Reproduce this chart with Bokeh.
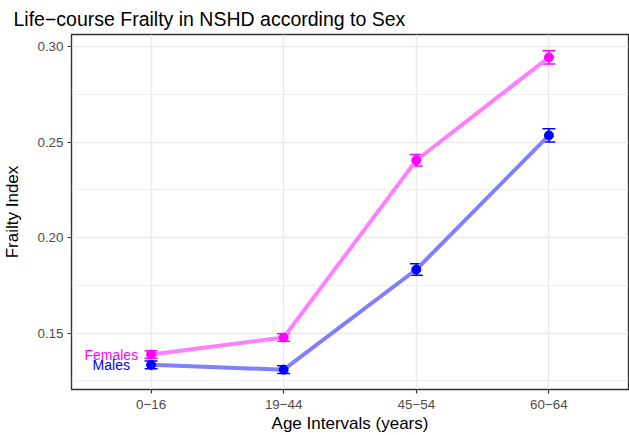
from bokeh.plotting import figure
from bokeh.models import (Range1d, FixedTicker, Whisker, ColumnDataSource, TeeHead,
                          PrintfTickFormatter)
from bokeh.embed import file_html
from bokeh.resources import INLINE
from bokeh.core.properties import value

# ---- data ----
categories = ["0−16", "19−44", "45−54", "60−64"]
females = [0.1388, 0.1477, 0.2405, 0.2943]
females_err = [0.0020, 0.0020, 0.0030, 0.0035]
males = [0.1334, 0.1309, 0.1833, 0.2535]
males_err = [0.0020, 0.0020, 0.0030, 0.0035]
series_names = ["Females", "Males"]
y_ticks = [0.15, 0.20, 0.25, 0.30]
y_minor = [0.125, 0.175, 0.225, 0.275]

FONT = "Liberation Sans"
F_LINE, F_PT = "#FF80FF", "#FF00FF"
M_LINE, M_PT = "#8080FF", "#0000FF"

xpos = list(range(1, len(categories) + 1))

p = figure(width=629, height=435, output_backend="svg", toolbar_location=None,
           x_range=Range1d(0.4, len(categories) + 0.6),
           y_range=Range1d(0.1205, 0.3063),
           min_border_left=68, min_border_right=1, min_border_top=34,
           min_border_bottom=44)

p.title.text = "Life−course Frailty in NSHD according to Sex"
p.title.text_font = FONT
p.title.text_font_size = "19.5px"
p.title.text_font_style = "normal"
p.title.text_color = "#000000"
p.title.align = "left"
p.title.standoff = 9
p.title.offset = -58

p.background_fill_color = "white"
p.border_fill_color = "white"
p.outline_line_color = "#333333"
p.outline_line_width = 1.4

# grid
p.xgrid.ticker = FixedTicker(ticks=xpos)
p.xgrid.grid_line_color = "#EBEBEB"
p.xgrid.grid_line_width = 1.5
p.ygrid.ticker = FixedTicker(ticks=y_ticks, minor_ticks=y_minor)
p.ygrid.grid_line_color = "#EBEBEB"
p.ygrid.grid_line_width = 1.5
p.ygrid.minor_grid_line_color = "#EBEBEB"
p.ygrid.minor_grid_line_width = 0.8

# axes
p.xaxis.ticker = FixedTicker(ticks=xpos)
p.xaxis.major_label_overrides = {x: c for x, c in zip(xpos, categories)}
p.yaxis.ticker = FixedTicker(ticks=y_ticks, minor_ticks=y_minor)
p.yaxis.formatter = PrintfTickFormatter(format="%.2f")
for ax in (p.xaxis, p.yaxis):
    ax.axis_line_color = None
    ax.major_tick_line_color = "#333333"
    ax.major_tick_line_width = 1.2
    ax.major_tick_out = 4
    ax.major_tick_in = 0
    ax.minor_tick_line_color = None
    ax.major_label_text_font = FONT
    ax.major_label_text_font_size = "13.4px"
    ax.major_label_text_color = "#4D4D4D"
    ax.axis_label_text_font = FONT
    ax.axis_label_text_font_size = "17px"
    ax.axis_label_text_font_style = "normal"
    ax.axis_label_text_color = "#000000"
p.xaxis.axis_label = "Age Intervals (years)"
p.yaxis.axis_label = "Frailty Index"
p.xaxis.major_label_standoff = 6
p.xaxis.axis_label_standoff = 2
p.yaxis.major_label_standoff = 4
p.yaxis.axis_label_standoff = 12

series = [
    (series_names[0], females, females_err, F_LINE, F_PT),
    (series_names[1], males, males_err, M_LINE, M_PT),
]
for name, vals, errs, lc, pc in series:
    src = ColumnDataSource(dict(
        x=xpos, y=vals,
        upper=[v + e for v, e in zip(vals, errs)],
        lower=[v - e for v, e in zip(vals, errs)],
    ))
    p.line("x", "y", source=src, line_color=lc, line_width=4)
    w = Whisker(base="x", upper="upper", lower="lower", source=src,
                line_color=pc, line_width=1.5,
                upper_head=TeeHead(size=13, line_color=pc, line_width=1.5),
                lower_head=TeeHead(size=13, line_color=pc, line_width=1.5))
    p.add_layout(w)
    p.scatter("x", "y", source=src, size=9, fill_color=pc, line_color=pc)
    # series label next to the first point
    p.text(x=[xpos[0] - 0.3], y=[vals[0]], text=[name], text_color=pc,
           text_font=value(FONT), text_font_size="14px",
           text_align="center", text_baseline="middle")

open("out.html", "w").write(file_html(p, INLINE))
